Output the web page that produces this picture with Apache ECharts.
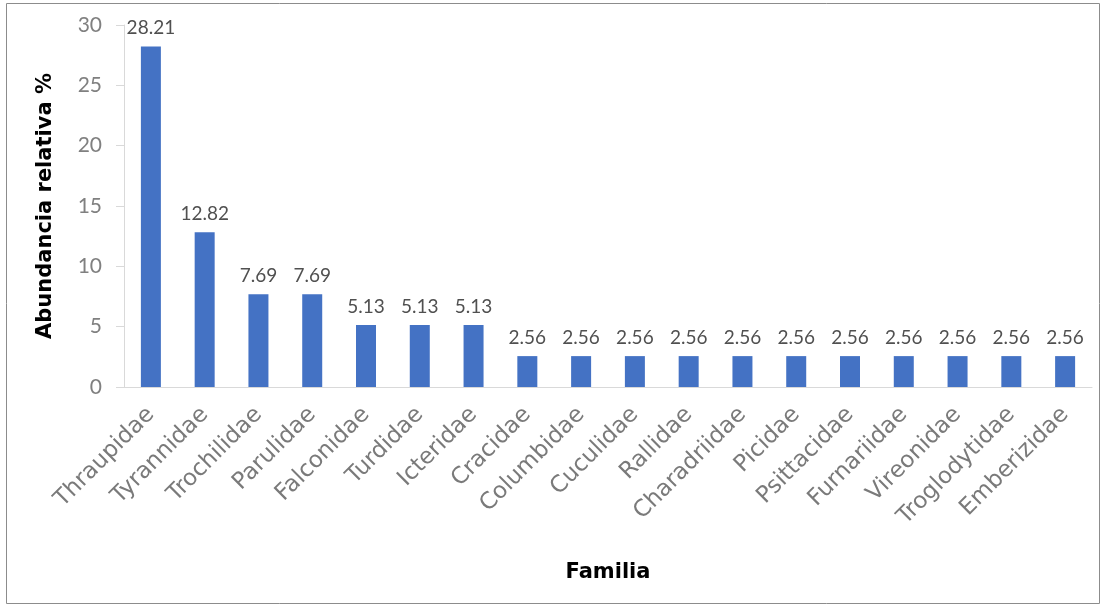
<!DOCTYPE html>
<html><head><meta charset="utf-8">
<script src="https://cdn.jsdelivr.net/npm/echarts@6/dist/echarts.min.js"></script>
<style>html,body{margin:0;padding:0;background:#fff}#c{width:1103px;height:607px}</style>
</head><body><div id="c"></div>
<script>
const categories = ["Thraupidae","Tyrannidae","Trochilidae","Parulidae","Falconidae","Turdidae","Icteridae","Cracidae","Columbidae","Cuculidae","Rallidae","Charadriidae","Picidae","Psittacidae","Furnariidae","Vireonidae","Troglodytidae","Emberizidae"];
const values = [28.21,12.82,7.69,7.69,5.13,5.13,5.13,2.56,2.56,2.56,2.56,2.56,2.56,2.56,2.56,2.56,2.56,2.56];
const yTicks = [0,5,10,15,20,25,30];
const font = "Lato, 'Open Sans', sans-serif";
const titleFont = "'DejaVu Sans', sans-serif";
const chart = echarts.init(document.getElementById('c'));
chart.setOption({
  animation:false,
  graphic:[{type:'rect',shape:{x:6.5,y:3.5,width:1093,height:600},style:{fill:'none',stroke:'#8c8c8c',lineWidth:1}}],
  grid:{left:124,right:11,top:25,bottom:220},
  xAxis:{type:'category',data:categories,
    name:'Familia',nameLocation:'middle',nameGap:175,
    nameTextStyle:{fontFamily:titleFont,fontWeight:'bold',fontSize:21,color:'#000'},
    axisLine:{lineStyle:{color:'#d9d9d9'}},axisTick:{show:false},
    axisLabel:{rotate:45,interval:0,fontFamily:titleFont,fontSize:23,color:'#7a7a7a',margin:24}},
  yAxis:{type:'value',min:0,max:30,interval:5,
    name:'Abundancia relativa %',nameLocation:'middle',nameGap:68,
    nameTextStyle:{fontFamily:titleFont,fontWeight:'bold',fontSize:21,color:'#000'},
    splitLine:{show:false},
    axisLine:{show:true,lineStyle:{color:'#d9d9d9'}},
    axisTick:{show:true,length:8,lineStyle:{color:'#d9d9d9'}},
    axisLabel:{fontFamily:font,fontSize:21,color:'#808080',margin:22,
      formatter:v=>yTicks.includes(v)?String(v):''}},
  series:[{type:'bar',data:values,barWidth:20,
    itemStyle:{color:'#4472c4'},
    label:{show:true,position:'top',distance:9,fontFamily:font,fontSize:19,color:'#505050',formatter:p=>p.value.toFixed(2)}}]
});
</script></body></html>
